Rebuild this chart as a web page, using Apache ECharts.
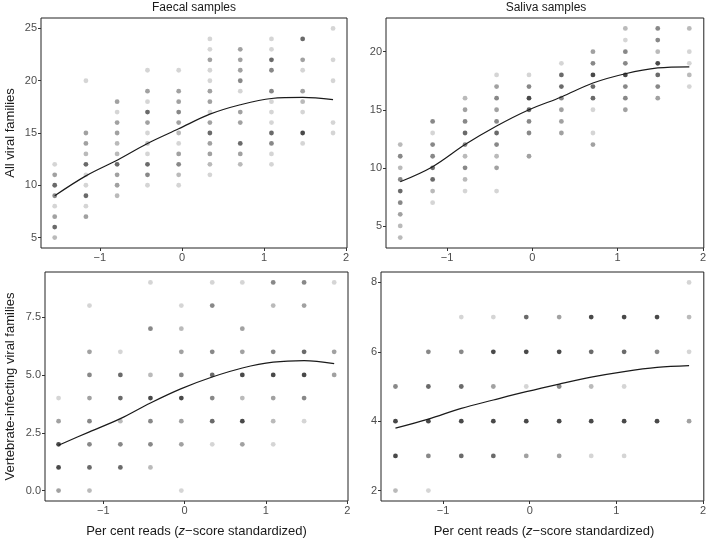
<!DOCTYPE html>
<html>
<head>
<meta charset="utf-8">
<script src="https://cdn.jsdelivr.net/npm/echarts@6/dist/echarts.min.js"></script>
<style>html,body{margin:0;padding:0;background:#fff}#c{width:709px;height:541px}</style>
</head>
<body>
<div id="c"></div>
<script>
// x positions of the 10 standardized read-percentage groups
const xCols = [-1.55, -1.17, -0.79, -0.42, -0.04, 0.34, 0.71, 1.09, 1.47, 1.84];
const xTicks = [-1, 0, 1, 2];

// points: [columnIndex, y, shade(overlap weight)]
const faecalAll = [
  [0,12,1],[0,11,3],[0,10,6],[0,9,4],[0,8,1],[0,7,3],[0,6,6],[0,5,2],
  [1,20,1],[1,15,3],[1,14,3],[1,13,2],[1,12,6],[1,11,1],[1,10,1],[1,9,6],[1,8,1],[1,7,3],
  [2,18,3],[2,17,1],[2,16,3],[2,15,3],[2,14,2],[2,13,2],[2,12,6],[2,11,3],[2,10,3],[2,9,2],
  [3,21,1],[3,19,3],[3,18,1],[3,17,6],[3,16,3],[3,15,1],[3,14,2],[3,13,1],[3,12,6],[3,11,4],[3,10,1],
  [4,21,1],[4,19,3],[4,18,3],[4,17,4],[4,16,3],[4,15,2],[4,14,1],[4,13,3],[4,12,4],[4,11,2],[4,10,1],
  [5,24,1],[5,23,1],[5,22,3],[5,21,1],[5,20,1],[5,19,3],[5,18,3],[5,17,1],[5,16,3],[5,15,6],[5,14,3],[5,13,3],[5,12,2],[5,11,1],
  [6,23,3],[6,22,3],[6,21,3],[6,20,4],[6,19,1],[6,17,3],[6,16,3],[6,14,6],[6,13,3],[6,12,2],
  [7,24,1],[7,23,1],[7,22,6],[7,21,4],[7,19,4],[7,18,1],[7,17,1],[7,16,1],[7,15,6],[7,14,4],[7,13,1],[7,12,1],
  [8,24,6],[8,22,3],[8,21,1],[8,19,3],[8,18,2],[8,17,1],[8,15,9],[8,14,1],
  [9,25,1],[9,22,1],[9,20,1],[9,16,1],[9,15,1]
];
const salivaAll = [
  [0,12,2],[0,11,4],[0,10,2],[0,9,4],[0,8,6],[0,7,4],[0,6,3],[0,5,2],[0,4,2],
  [1,14,4],[1,13,1],[1,12,4],[1,11,4],[1,10,6],[1,9,6],[1,8,2],[1,7,1],
  [2,16,2],[2,15,3],[2,14,4],[2,13,6],[2,12,4],[2,11,2],[2,10,4],[2,9,2],[2,8,1],
  [3,18,1],[3,17,3],[3,16,4],[3,15,3],[3,14,4],[3,13,6],[3,12,4],[3,11,2],[3,10,3],[3,8,1],
  [4,18,1],[4,17,4],[4,16,9],[4,15,6],[4,14,4],[4,13,4],[4,11,3],
  [5,19,1],[5,18,6],[5,17,6],[5,16,4],[5,15,3],[5,14,3],[5,13,3],
  [6,20,3],[6,19,4],[6,18,9],[6,17,6],[6,16,6],[6,15,1],[6,13,1],[6,12,3],
  [7,22,2],[7,21,1],[7,20,4],[7,19,4],[7,18,9],[7,17,4],[7,16,4],[7,15,3],
  [8,22,4],[8,21,4],[8,20,2],[8,19,9],[8,18,6],[8,17,4],[8,16,3],
  [9,22,2],[9,20,1],[9,19,1],[9,18,2],[9,17,1]
];
const faecalVert = [
  [0,4,1],[0,3,3],[0,2,9],[0,1,9],[0,0,3],
  [1,8,1],[1,6,3],[1,5,4],[1,4,3],[1,3,4],[1,2,4],[1,1,6],[1,0,2],
  [2,6,1],[2,5,6],[2,4,6],[2,3,2],[2,2,4],[2,1,6],
  [3,9,1],[3,7,4],[3,5,2],[3,4,9],[3,3,4],[3,2,4],[3,1,2],
  [4,8,1],[4,7,2],[4,6,3],[4,5,4],[4,4,9],[4,3,3],[4,2,3],[4,0,1],
  [5,9,1],[5,8,4],[5,6,4],[5,5,6],[5,4,4],[5,3,6],[5,2,1],
  [6,9,1],[6,7,3],[6,6,3],[6,5,9],[6,4,2],[6,3,9],[6,2,3],
  [7,9,4],[7,8,2],[7,6,4],[7,5,9],[7,4,3],[7,3,2],[7,2,1],
  [8,9,4],[8,8,3],[8,6,6],[8,5,9],[8,4,4],[8,3,1],
  [9,9,1],[9,6,3],[9,5,3]
];
const salivaVert = [
  [0,5,4],[0,4,9],[0,3,9],[0,2,2],
  [1,6,4],[1,5,6],[1,4,9],[1,3,4],[1,2,1],
  [2,7,1],[2,6,4],[2,5,6],[2,4,9],[2,3,6],
  [3,7,1],[3,6,9],[3,5,3],[3,4,9],[3,3,6],
  [4,7,6],[4,6,9],[4,5,1],[4,4,9],[4,3,3],
  [5,7,3],[5,6,9],[5,5,4],[5,4,9],[5,3,3],
  [6,7,9],[6,6,6],[6,5,2],[6,4,9],[6,3,1],
  [7,7,9],[7,6,6],[7,5,1],[7,4,9],[7,3,1],
  [8,7,9],[8,6,4],[8,4,9],
  [9,8,1],[9,7,2],[9,6,1],[9,4,3]
];

// smoothed fits evaluated at each column
const faecalAllFit  = [9.0, 10.9, 12.4, 14.0, 15.4, 16.8, 17.7, 18.3, 18.4, 18.2];
const salivaAllFit  = [8.8, 10.1, 12.0, 13.6, 15.0, 16.1, 17.3, 18.1, 18.6, 18.7];
const faecalVertFit = [1.96, 2.54, 3.11, 3.79, 4.41, 4.91, 5.30, 5.55, 5.62, 5.49];
const salivaVertFit = [3.80, 4.06, 4.37, 4.61, 4.85, 5.07, 5.27, 5.43, 5.55, 5.60];

const yTicksFaecalAll = [5, 10, 15, 20, 25];
const yTicksSalivaAll = [5, 10, 15, 20];
const yTicksFaecalVert = [0, 2.5, 5, 7.5];
const yTicksSalivaVert = [2, 4, 6, 8];

const panelTitles = ['Faecal samples', 'Saliva samples'];
const yTitles = ['All viral families', 'Vertebrate-infecting viral families'];

const shadeColor = {1:'#cbcbcb', 2:'#a9a9a9', 3:'#8a8a8a', 4:'#6a6a6a', 6:'#454545', 9:'#1c1c1c'};
const FONT = '"Liberation Sans", Arial, sans-serif';

const grids = [
  {left: 41, top: 18, width: 306, height: 230},
  {left: 386, top: 18, width: 320, height: 230},
  {left: 45, top: 272, width: 303, height: 229},
  {left: 381, top: 272, width: 326, height: 229}
];
const yRanges = [[4, 26], [3.1, 22.9], [-0.45, 9.45], [1.7, 8.3]];
const yTickSets = [yTicksFaecalAll, yTicksSalivaAll, yTicksFaecalVert, yTicksSalivaVert];
const yFmt = [v => String(v), v => String(v), v => v.toFixed(1), v => String(v)];
const pointSets = [faecalAll, salivaAll, faecalVert, salivaVert];
const fitSets = [faecalAllFit, salivaAllFit, faecalVertFit, salivaVertFit];

const minus = s => String(s).replace('-', '\u2212');

const option = {
  animation: false,
  backgroundColor: '#fff',
  grid: grids.map(g => Object.assign({show: true, borderColor: '#222', borderWidth: 1, backgroundColor: 'transparent'}, g)),
  xAxis: grids.map((g, i) => ({
    type: 'value', gridIndex: i, min: -1.717, max: 2.01, position: 'bottom',
    axisLine: {show: false, onZero: false},
    splitLine: {show: false},
    axisTick: {show: true, length: 3, lineStyle: {color: '#333'}, customValues: xTicks},
    axisLabel: {customValues: xTicks, color: '#4d4d4d', fontSize: 11, fontFamily: FONT, margin: 4,
                formatter: v => minus(v)}
  })),
  yAxis: grids.map((g, i) => ({
    type: 'value', gridIndex: i, min: yRanges[i][0], max: yRanges[i][1], position: 'left',
    axisLine: {show: false, onZero: false},
    splitLine: {show: false},
    axisTick: {show: true, length: 3, lineStyle: {color: '#333'}, customValues: yTickSets[i]},
    axisLabel: {customValues: yTickSets[i], color: '#4d4d4d', fontSize: 11, fontFamily: FONT, margin: 4,
                formatter: v => yFmt[i](v)}
  })),
  series: [],
  graphic: []
};

pointSets.forEach((pts, i) => {
  option.series.push({
    type: 'scatter', xAxisIndex: i, yAxisIndex: i,
    symbolSize: 4.8,
    data: pts.map(p => [xCols[p[0]], p[1], p[2]]),
    itemStyle: {color: params => shadeColor[params.data[2]]},
    z: 2
  });
  option.series.push({
    type: 'line', xAxisIndex: i, yAxisIndex: i,
    data: fitSets[i].map((y, k) => [xCols[k], y]),
    smooth: 0.35, showSymbol: false, symbol: 'none',
    lineStyle: {color: '#1a1a1a', width: 1.2},
    z: 3
  });
});

// panel titles
[0, 1].forEach(i => {
  const g = grids[i];
  option.graphic.push({type: 'text', x: g.left + g.width / 2, y: 8,
    style: {text: panelTitles[i], fill: '#1a1a1a', font: '12px ' + FONT, textAlign: 'center', textVerticalAlign: 'middle'}});
});
// y titles
[0, 2].forEach((gi, k) => {
  const g = grids[gi];
  option.graphic.push({type: 'text', x: 10, y: g.top + g.height / 2, rotation: Math.PI / 2,
    style: {text: yTitles[k], fill: '#1a1a1a', font: '13px ' + FONT, textAlign: 'center', textVerticalAlign: 'middle'}});
});
// x titles
[2, 3].forEach(gi => {
  const g = grids[gi];
  option.graphic.push({type: 'text', x: g.left + g.width / 2, y: 531,
    style: {text: 'Per cent reads ({i|z}\u2212score standardized)', fill: '#1a1a1a', font: '13px ' + FONT,
      textAlign: 'center', textVerticalAlign: 'middle',
      rich: {i: {fontStyle: 'italic', fontSize: 13, fontFamily: FONT, fill: '#1a1a1a'}}}});
});

const chart = echarts.init(document.getElementById('c'), null, {renderer: 'canvas'});
chart.setOption(option);
</script>
</body>
</html>
